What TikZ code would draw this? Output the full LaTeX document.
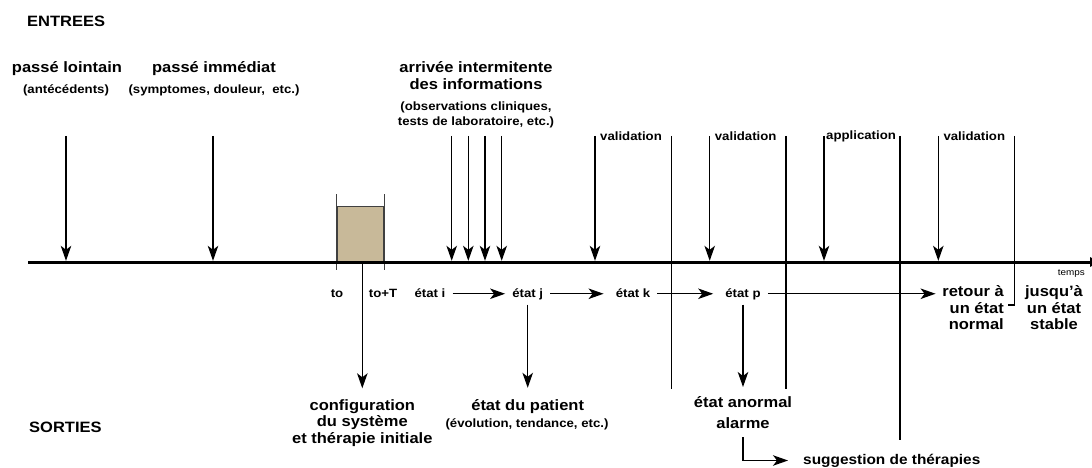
\documentclass[tikz,border=0pt]{standalone}
\usepackage{fontspec}
\setmainfont{Liberation Sans}[FakeStretch=1.1]
\usetikzlibrary{positioning,arrows.meta}
\definecolor{boitebeige}{RGB}{200,185,153}

\begin{document}
\begin{tikzpicture}[x=1pt, y=-1pt,
      grand/.style={font=\fontsize{15}{16.5}\selectfont\bfseries, inner sep=0pt, align=center},
      petit/.style={font=\fontsize{12}{15}\selectfont\bfseries, inner sep=0pt, align=center},
      etat/.style={petit, text height=9pt, text depth=2.5pt, inner xsep=7pt, inner ysep=5pt},
      arr/.style={-{Stealth[length=15pt, width=10.5pt, inset=4pt]}, line width=1.2pt},
      trait/.style={line width=1.2pt},
      axe/.style={line width=3pt}]
    \useasboundingbox (0,0) rectangle (1092,468);
    \clip (0,0) rectangle (1092,468);

    \node[grand, anchor=base west] (entrees) at (27,26.5) {ENTREES};
    \node[grand, anchor=base west] (sorties) at (29,432) {SORTIES};

    \node[grand, anchor=base] (lointain) at (67,72.5) {passé lointain};
    \node[petit, anchor=base] (antec) at (66,94) {(antécédents)};
    \node[grand, anchor=base] (immediat) at (214,72.5) {passé immédiat};
    \node[petit, anchor=base] (sympt) at (214,94) {(symptomes, douleur,\ \ etc.)};
    \node[grand, anchor=north] (arrivee) at (476,61.6) {arrivée intermitente\\des informations};
    \node[petit, anchor=north] (observ) at (476,101.5) {(observations cliniques,\\tests de laboratoire, etc.)};

    \node[draw=black!75, line width=0.8pt, fill=boitebeige, minimum width=46.6pt, minimum height=55pt,
          inner sep=0pt, anchor=south west] (fenetre) at (336.7,262) {};
    \draw[line width=0.8pt, black!75] ([yshift=12pt]fenetre.north west) -- ([yshift=-8pt]fenetre.south west);
    \draw[line width=0.8pt, black!75] ([yshift=12pt]fenetre.north east) -- ([yshift=-8pt]fenetre.south east);

    \coordinate (t0) at (28,262);
    \coordinate (t1) at (1100,262);
    \draw[axe, -{Triangle[length=10pt, width=9pt]}] (t0) -- (t1);
    \node[font=\fontsize{9}{10}\selectfont, inner sep=0pt, anchor=base east] (temps) at (1085,275) {temps};

    \coordinate (ina) at (66,136);
    \coordinate (inb) at (213,136);
    \coordinate (inc) at (451.7,136);
    \coordinate (ind) at (468.3,136);
    \coordinate (ine) at (485,136);
    \coordinate (inf) at (501.7,136);
    \coordinate (ing) at (595,136);
    \coordinate (inh) at (709.7,136);
    \coordinate (ini) at (824,136);
    \coordinate (inj) at (938.3,136);
    \draw[arr, shorten >=1.2pt] (ina) -- (ina |- t0);
    \draw[arr, shorten >=1.2pt] (inb) -- (inb |- t0);
    \draw[arr, shorten >=1.2pt] (inc) -- (inc |- t0);
    \draw[arr, shorten >=1.2pt] (ind) -- (ind |- t0);
    \draw[arr, shorten >=1.2pt] (ine) -- (ine |- t0);
    \draw[arr, shorten >=1.2pt] (inf) -- (inf |- t0);
    \draw[arr, shorten >=1.2pt] (ing) -- (ing |- t0);
    \draw[arr, shorten >=1.2pt] (inh) -- (inh |- t0);
    \draw[arr, shorten >=1.2pt] (ini) -- (ini |- t0);
    \draw[arr, shorten >=1.2pt] (inj) -- (inj |- t0);

    \node[petit, right=5pt of ing] (val1) {validation};
    \node[petit, right=5pt of inh] (val2) {validation};
    \node[petit, right=2pt of ini] (appli) {application};
    \node[petit, right=5pt of inj] (val3) {validation};

    \coordinate (s1) at (671.7,136);
    \coordinate (s2) at (786,136);
    \coordinate (s3) at (900,136);
    \coordinate (s4) at (1014.5,136);
    \coordinate (f1) at (671.7,389);
    \coordinate (f2) at (786,389);
    \coordinate (f3) at (900,440);
    \coordinate (crochet) at (1008,305);
    \draw[trait] (s1) -- (f1);
    \draw[trait] (s2) -- (f2);
    \draw[trait] (s3) -- (f3);
    \draw[trait] (s4) |- (crochet);

    \node[petit, anchor=base] (to) at (337,297) {to};
    \node[petit, anchor=base] (toT) at (383,297) {to+T};
    \node[etat, anchor=base] (ei) at (430,297) {état i};
    \node[etat, anchor=base] (ej) at (527.7,297) {état j};
    \node[etat, anchor=base] (ek) at (633,297) {état k};
    \node[etat, anchor=base] (ep) at (743,297) {état p};
    \node[grand, align=right, anchor=north east] (retour) at (1004,285.6) {retour à\\un état\\normal};
    \node[grand, anchor=north] (jusqua) at (1054,285.6) {jusqu’à\\un état\\stable};
    \draw[arr] (ei) -- (ej);
    \draw[arr, shorten >=5pt] (ej) -- (ek);
    \draw[arr, shorten >=5pt] (ek) -- (ep);
    \draw[arr, shorten >=6.6pt] (ep) -- (ep -| retour.west);

    \node[grand, anchor=north] (config) at (362.3,399.3) {configuration\\du système\\et thérapie initiale};
    \draw[arr] (config |- t0) -- ([yshift=11pt]config.north);

    \node[grand, anchor=base] (patient) at (527.7,410) {état du patient};
    \node[petit, anchor=base] (evol) at (527,427) {(évolution, tendance, etc.)};
    \draw[arr] (ej.south) -- ([yshift=11pt]patient.north);

    \node[grand, anchor=north] (anormal) at (743,396) {état anormal\\[4.5pt]alarme};
    \draw[arr] (ep.south) -- ([yshift=9pt]anormal.north);
    \node[grand, font=\fontsize{14}{16}\selectfont\bfseries, anchor=base west] (sugg) at (803,464) {suggestion de thérapies};
    \draw[arr] ([yshift=-8.5pt]anormal.south) |- ([xshift=-15pt, yshift=3.5pt]sugg.base west);
  \end{tikzpicture}
\end{document}
